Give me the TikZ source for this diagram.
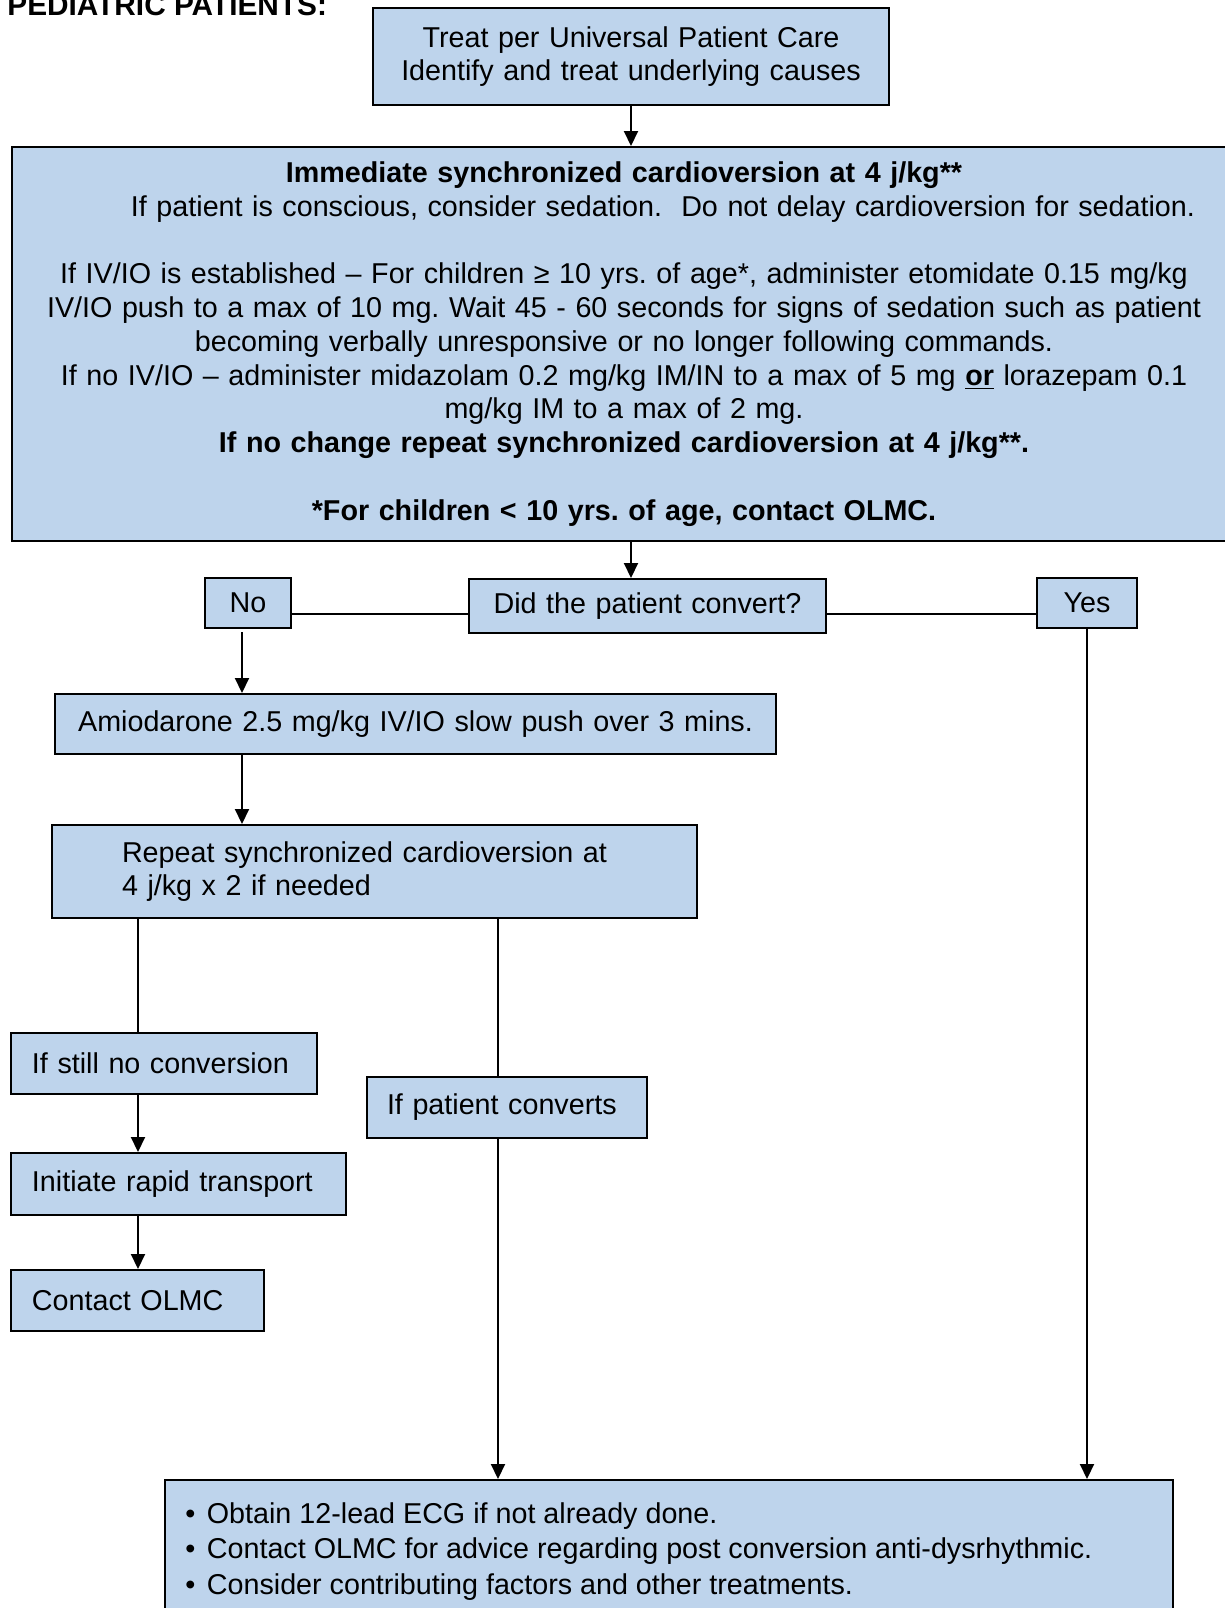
\documentclass[tikz,border=0pt]{standalone}
\usepackage{fontspec}
\setmainfont{Liberation Sans}
\usetikzlibrary{arrows.meta}
\definecolor{boxblue}{RGB}{190,212,236}
\newcommand{\bodyfont}{\fontsize{14.35pt}{16.9pt}\selectfont}
\newcommand{\lowered}[1]{\raisebox{-1.5pt}{#1}}
\frenchspacing
\begin{document}
\begin{tikzpicture}[x=0.5pt, y=-0.5pt,
  box/.style={draw=black, fill=boxblue, line width=1pt, rectangle,
    inner ysep=0pt, font=\bodyfont, anchor=north west},
  cbox/.style={box, inner xsep=0pt, align=center},
  lbox/.style={box, inner xsep=#1, align=left},
  link/.style={line width=1pt},
  arr/.style={link, -{Triangle[length=7.5pt, width=7pt]}}]
\useasboundingbox (0,0) rectangle (1225,1608);

% heading
\node[anchor=base west, inner sep=0pt, font=\fontsize{14.9pt}{17pt}\selectfont\bfseries]
  (title) at (7,15) {PEDIATRIC PATIENTS:};

% boxes
\node[cbox, text width=258pt, minimum height=48.5pt] (top) at (372,7)
  {Treat per Universal Patient Care\\Identify and treat underlying causes};

\node[cbox, text width=612pt, minimum height=197pt] (cardio) at (11,146)
  {\textbf{Immediate synchronized cardioversion at 4 j/kg**}\\
   \hspace*{39pt}If patient is conscious, consider sedation.\ \ Do not delay cardioversion for sedation.\\[16.9pt]
   If IV/IO is established -- For children ≥ 10 yrs. of age*, administer etomidate 0.15 mg/kg\\
   IV/IO push to a max of 10 mg. Wait 45 - 60 seconds for signs of sedation such as patient\\
   becoming verbally unresponsive or no longer following commands.\\
   If no IV/IO -- administer midazolam 0.2 mg/kg IM/IN to a max of 5 mg \underline{\textbf{or}} lorazepam 0.1\\
   mg/kg IM to a max of 2 mg.\\
   \textbf{If no change repeat synchronized cardioversion at 4 j/kg**.}\\[16.9pt]
   \textbf{*For children < 10 yrs. of age, contact OLMC.}};

\node[cbox, text width=43pt, minimum height=25pt] (no) at (204,577) {\lowered{No}};
\node[cbox, text width=178.5pt, minimum height=27pt] (did) at (468,578) {\lowered{Did the patient convert?}};
\node[cbox, text width=50pt, minimum height=25pt] (yes) at (1036,577) {\lowered{Yes}};

\node[cbox, text width=360.5pt, minimum height=30pt] (amio) at (54,693)
  {Amiodarone 2.5 mg/kg IV/IO slow push over 3 mins.};

\node[lbox=35pt, text width=252.5pt, minimum height=46.5pt] (repeat) at (51,824)
  {Repeat synchronized cardioversion at\\4 j/kg x 2 if needed};

\node[lbox=10.5pt, text width=132pt, minimum height=30.5pt] (still) at (10,1032)
  {If still no conversion};
\node[lbox=10pt, text width=120pt, minimum height=30.5pt] (conv) at (366,1076)
  {If patient converts};
\node[lbox=10.5pt, text width=146.5pt, minimum height=31pt] (rapid) at (10,1152)
  {Initiate rapid transport};
\node[lbox=10.5pt, text width=105.5pt, minimum height=30.5pt] (olmc) at (10,1269)
  {Contact OLMC};

\node[box, minimum width=504pt, minimum height=72pt] (post) at (164,1479) {};
\node[anchor=north west, inner sep=0pt, align=left,
  font=\fontsize{14.35pt}{17.75pt}\selectfont] (postlist) at (185,1502)
  {\textbullet\hspace{0.4em}Obtain 12-lead ECG if not already done.\\
   \textbullet\hspace{0.4em}Contact OLMC for advice regarding post conversion anti-dysrhythmic.\\
   \textbullet\hspace{0.4em}Consider contributing factors and other treatments.};

% connector anchors
\coordinate (hy) at (0,614);
\coordinate (noout) at (242,632);
\coordinate (lx) at (138,0);
\coordinate (rx) at (498,0);

% connectors
\draw[arr] (top.south) -- (top.south |- cardio.north);
\draw[arr] (top.south |- cardio.south) -- (top.south |- did.north);
\draw[link] (no.east |- hy) -- (did.west |- hy);
\draw[link] (did.east |- hy) -- (yes.west |- hy);
\draw[arr] (noout) -- (noout |- amio.north);
\draw[arr] (noout |- amio.south) -- (noout |- repeat.north);
\draw[link] (lx |- repeat.south) -- (lx |- still.north);
\draw[link] (rx |- repeat.south) -- (rx |- conv.north);
\draw[arr] (lx |- still.south) -- (lx |- rapid.north);
\draw[arr] (lx |- rapid.south) -- (lx |- olmc.north);
\draw[arr] (rx |- conv.south) -- (rx |- post.north);
\draw[arr] (yes.south) -- (yes.south |- post.north);
\end{tikzpicture}
\end{document}
